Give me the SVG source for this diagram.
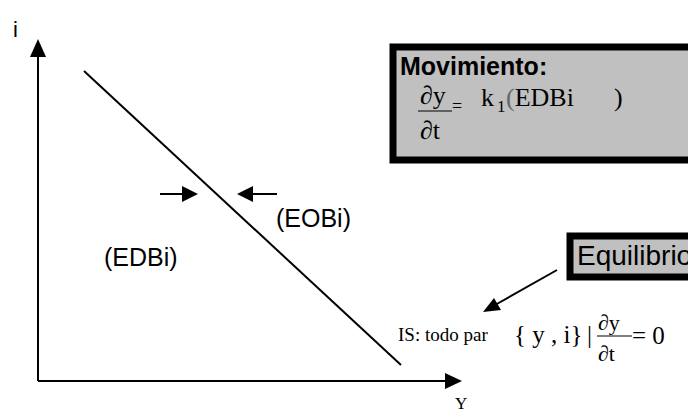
<svg xmlns="http://www.w3.org/2000/svg" width="688" height="412" viewBox="0 0 688 412">
<defs>
<style>
.ln{stroke:#000;stroke-width:2;fill:none}
.sans{font-family:"Liberation Sans",Arial,sans-serif;fill:#000}
.serif{font-family:"Liberation Serif","Times New Roman",serif;fill:#000}
.box{fill:#c0c0c0;stroke:#000;stroke-width:7}
.head{fill:#000}
</style>
</defs>
<rect width="688" height="412" fill="#fff"/>
<g id="axes">
<line class="ln" x1="38" y1="381" x2="38" y2="54"/>
<path class="head" d="M38,39 L46,57 L30,57 z"/>
<line class="ln" x1="38" y1="381" x2="447" y2="381"/>
<path class="head" d="M462,381 L445,373 L445,389 z"/>
<text class="sans" x="13" y="37" font-size="22">i</text>
<text class="serif" x="455" y="409" font-size="17">Y</text>
</g>
<g id="connectors">
<line class="ln" x1="84" y1="71" x2="401" y2="365"/>
<line class="ln" x1="160" y1="194" x2="184" y2="194"/>
<path class="head" d="M198,194 L182,186 L182,202 z"/>
<line class="ln" x1="277" y1="194" x2="252" y2="194"/>
<path class="head" d="M237,194 L253,186 L253,202 z"/>
<line class="ln" x1="557" y1="270" x2="495" y2="305"/>
<path class="head" d="M483,312 L494,298 L501,310 z"/>
</g>
<g id="eobi"><text class="sans" x="276" y="227" font-size="25">(EOBi)</text></g>
<g id="edbi"><text class="sans" x="104" y="266" font-size="25">(EDBi)</text></g>
<g id="movimiento">
<rect class="box" x="393" y="47" width="300" height="113"/>
<text class="sans" x="400" y="75" font-size="25" font-weight="bold">Movimiento:</text>
<text class="serif" x="420" y="104" font-size="26">∂y</text>
<line stroke="#000" stroke-width="1.2" x1="418" y1="111" x2="452" y2="111"/>
<text class="serif" x="452" y="112" font-size="18">=</text>
<text class="serif" x="420" y="139" font-size="26">∂t</text>
<text class="serif" x="481" y="106" font-size="26">k</text>
<text class="serif" x="497" y="112" font-size="17">1</text>
<text class="serif" x="506" y="106" font-size="26"><tspan fill="#666">(</tspan>EDBi</text>
<text class="serif" x="614" y="106" font-size="26" fill="#666">)</text>
</g>
<g id="equilibrio">
<rect class="box" x="570" y="236" width="130" height="41"/>
<text class="sans" x="577" y="265" font-size="28">Equilibrio</text>
</g>
<g id="is">
<text class="serif" x="398" y="341" font-size="19">IS: todo par</text>
<text class="serif" x="514" y="343" font-size="25">{ y , i}</text>
<text class="serif" x="587" y="343" font-size="25">|</text>
<text class="serif" x="598" y="330" font-size="22">∂y</text>
<line stroke="#000" stroke-width="1.2" x1="597" y1="336" x2="632" y2="336"/>
<text class="serif" x="598" y="361" font-size="22">∂t</text>
<text class="serif" x="632" y="344" font-size="25">= 0</text>
</g>
</svg>
